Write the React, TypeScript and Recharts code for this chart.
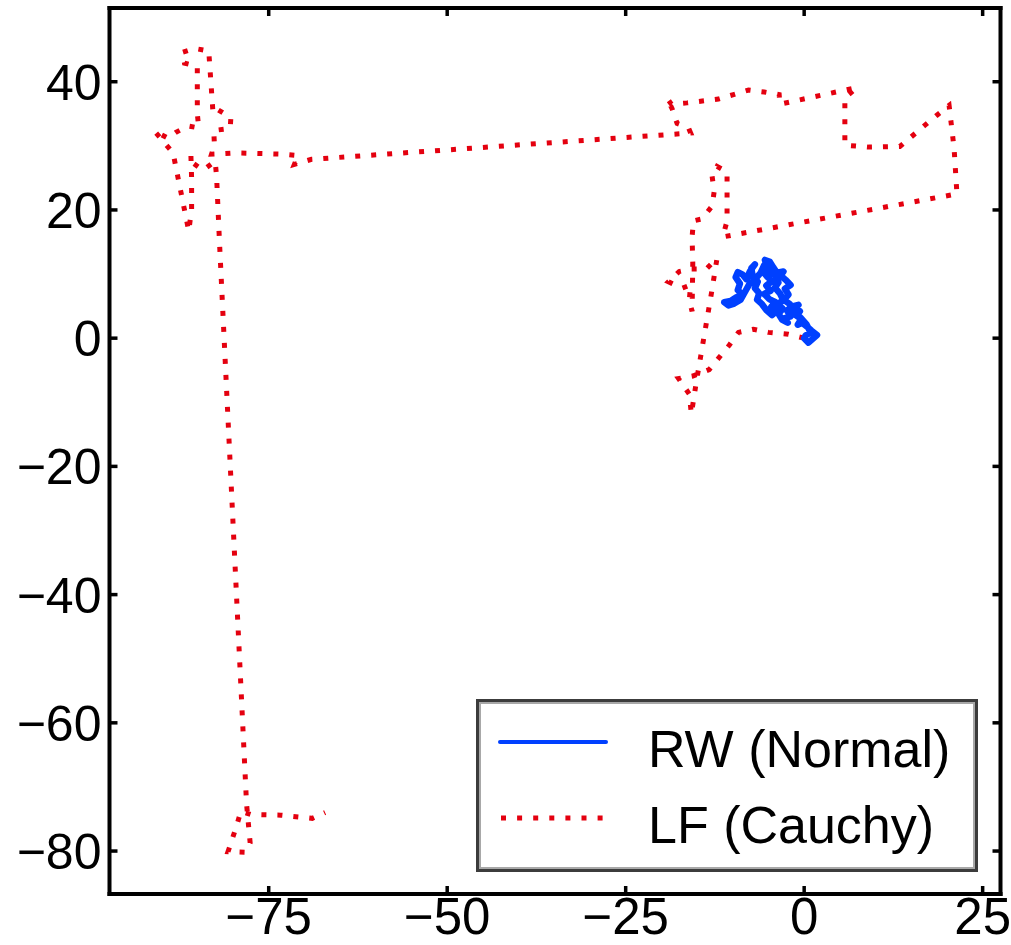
import React from 'react';
import { LineChart, Line, XAxis, YAxis, Legend } from 'recharts';

const xTicks = [-75, -50, -25, 0, 25];
const yTicks = [-80, -60, -40, -20, 0, 20, 40];
const xDomain: [number, number] = [-97.3, 27.5];
const yDomain: [number, number] = [-86.7, 51.5];

// random walk, normal steps
const rwPoints: [number, number][] = [
  [0, 0], [0.6, -0.7], [1.2, -0.1], [1.8, 0.5], [1.0, 1.2], [0.4, 1.8], [-0.3, 2.4],
  [-0.9, 2.1], [-0.4, 3.0], [-1.2, 3.6], [-0.6, 4.2], [-1.4, 4.6], [-0.8, 5.2],
  [-1.8, 4.9], [-2.4, 4.3], [-1.9, 3.4], [-2.8, 3.1], [-2.3, 2.4], [-3.1, 2.9],
  [-3.6, 3.8], [-3.0, 4.6], [-3.8, 5.3], [-2.9, 5.9], [-2.2, 6.8], [-2.7, 7.7],
  [-1.9, 8.3], [-2.6, 9.1], [-3.3, 9.8], [-2.9, 10.4], [-3.8, 10.2], [-4.3, 11.0],
  [-4.8, 11.9], [-5.5, 12.2], [-5.1, 11.3], [-5.9, 10.6], [-5.2, 9.6], [-4.5, 8.9],
  [-5.3, 8.2], [-4.7, 7.4], [-5.6, 6.9], [-4.9, 6.1], [-4.0, 5.6], [-4.6, 4.9],
  [-3.9, 4.2], [-4.5, 3.6], [-5.3, 4.4], [-5.9, 5.3], [-6.6, 6.0], [-6.3, 7.0],
  [-6.9, 7.8], [-6.5, 8.8], [-7.2, 9.6], [-7.4, 10.9], [-6.9, 11.5], [-7.6, 10.4],
  [-8.1, 9.2], [-8.6, 9.9], [-9.3, 10.3], [-9.6, 9.5], [-9.0, 8.5], [-9.3, 7.5],
  [-8.7, 6.8], [-9.6, 6.3], [-10.3, 5.8], [-11.2, 5.6], [-10.6, 5.1], [-9.8, 5.4],
  [-8.9, 6.0], [-8.2, 7.4], [-7.7, 8.4], [-6.8, 9.3], [-6.1, 10.2], [-5.6, 11.4],
  [-4.9, 10.6], [-4.0, 9.8], [-3.6, 8.7], [-4.1, 7.9], [-3.4, 7.0], [-3.0, 6.1],
  [-2.0, 5.3], [-1.3, 4.0], [-0.5, 3.2], [0.3, 2.2], [0.9, 0.9], [0.2, 0.4],
];

// levy flight, cauchy steps
const lfPoints: [number, number][] = [
  [0, 0], [-2.2, 0.6], [-5.0, 0.9], [-7.1, 1.4], [-9.2, 0.9], [-10.5, -1.1],
  [-11.9, -3.0], [-13.3, -4.9], [-15.6, -5.9], [-17.6, -6.3], [-16.1, -8.7],
  [-15.8, -11.8], [-15.1, -6.8], [-12.9, 7.6], [-12.2, 12.5], [-13.7, 10.8],
  [-15.8, 10.8], [-17.5, 10.4], [-19.0, 8.8], [-17.1, 7.8], [-15.9, 8.3],
  [-16.1, 5.8], [-15.7, 4.2], [-15.6, 11.7], [-15.7, 15.8], [-15.5, 18.3],
  [-14.3, 18.6], [-12.9, 20.6], [-12.6, 22.9], [-12.9, 25.3], [-12.2, 26.8],
  [-10.8, 25.9], [-10.8, 18.3], [-11.4, 15.8], [21.4, 22.5], [21.0, 29.6],
  [20.3, 36.3], [18.5, 34.7], [16.8, 33.1], [13.4, 29.9], [9.0, 29.8], [5.7, 30.1],
  [5.7, 37.5], [7.4, 39.1], [-3.4, 36.5], [-3.5, 38.0], [-5.6, 38.4], [-7.8, 38.7],
  [-9.9, 38.0], [-12.0, 37.3], [-16.4, 36.7], [-18.6, 36.5], [-19.2, 37.4],
  [-18.5, 35.8], [-17.8, 33.5], [-16.2, 32.8], [-15.9, 32.0], [-69.0, 27.9],
  [-71.4, 27.1], [-70.9, 28.5], [-73.0, 28.7], [-79.6, 28.9], [-83.0, 28.7],
  [-82.6, 30.1], [-82.7, 32.4], [-80.4, 32.7], [-80.3, 34.4], [-82.2, 35.7],
  [-82.8, 35.1], [-83.1, 40.0], [-83.4, 44.8], [-85.4, 45.2], [-87.1, 44.6],
  [-86.8, 42.9], [-85.0, 42.4], [-85.0, 35.0], [-84.8, 32.8], [-86.3, 33.1],
  [-88.0, 32.1], [-89.1, 31.2], [-91.0, 32.3], [-88.4, 28.9], [-86.2, 16.7],
  [-85.8, 20.1], [-85.8, 25.0], [-85.9, 28.6], [-85.6, 27.3], [-84.2, 26.2],
  [-82.5, 27.6], [-82.3, 25.2], [-81.9, 15.1], [-78.1, -72.7], [-77.6, -78.7],
  [-78.3, -80.2], [-80.7, -80.1], [-79.5, -76.1], [-78.9, -73.8], [-77.5, -74.3],
  [-73.3, -74.4], [-68.9, -74.9], [-67.1, -74.0],
];

const rwData = rwPoints.map(([x, y]) => ({ x, y }));
const lfData = lfPoints.map(([x, y]) => ({ x, y }));

const FONT = '"Liberation Sans", Arial, Helvetica, sans-serif';
const BLUE = '#0040ff';
const RED = '#e4000f';
const TICK_LEN = 8;
const axisStroke = { stroke: '#000', strokeWidth: 4, strokeLinecap: 'square' as const };

const fmt = (v: number) => (v < 0 ? `\u2212${Math.abs(v)}` : `${v}`);

function BottomTick({ x, y, payload }: any) {
  return (
    <g>
      <line x1={x} x2={x} y1={y} y2={y - TICK_LEN} stroke="#000" strokeWidth={3.5} />
      <text x={x} y={y + 40} textAnchor="middle" fontSize={51} fontFamily={FONT} fill="#000">
        {fmt(payload.value)}
      </text>
    </g>
  );
}

function LeftTick({ x, y, payload }: any) {
  return (
    <g>
      <line x1={x} x2={x + TICK_LEN} y1={y} y2={y} stroke="#000" strokeWidth={3.5} />
      <text x={x - 8} y={y + 18} textAnchor="end" fontSize={50} fontFamily={FONT} fill="#000">
        {fmt(payload.value)}
      </text>
    </g>
  );
}

const TopTick = ({ x, y }: any) => (
  <line x1={x} x2={x} y1={y} y2={y + TICK_LEN} stroke="#000" strokeWidth={3.5} />
);

const RightTick = ({ x, y }: any) => (
  <line x1={x} x2={x - TICK_LEN} y1={y} y2={y} stroke="#000" strokeWidth={3.5} />
);

function LegendBox() {
  const text: React.CSSProperties = {
    position: 'absolute',
    left: 169,
    fontFamily: FONT,
    fontSize: 52,
    lineHeight: '52px',
    color: '#000',
    whiteSpace: 'nowrap',
  };
  return (
    <div
      style={{
        position: 'relative',
        width: 502,
        height: 173,
        boxSizing: 'border-box',
        border: '3px solid #3c3c3c',
        boxShadow: 'inset 0 0 0 2px #a8a8a8',
        background: '#fff',
      }}
    >
      <svg width={140} height={170} style={{ position: 'absolute', left: 0, top: 0 }}>
        <line x1={21} x2={127} y1={40} y2={40} stroke={BLUE} strokeWidth={4} strokeLinecap="round" />
        <line x1={22} x2={128} y1={116} y2={116} stroke={RED} strokeWidth={5} strokeDasharray="5 11.1" />
      </svg>
      <span style={{ ...text, top: 21 }}>RW (Normal)</span>
      <span style={{ ...text, top: 97 }}>LF (Cauchy)</span>
    </div>
  );
}

export default function App() {
  return (
    <div style={{ position: 'absolute', left: 0, top: 0, background: '#fff' }}>
      <LineChart width={1011} height={945} margin={{ top: 0, right: 0, bottom: 0, left: 0 }}>
        <XAxis
          type="number"
          dataKey="x"
          domain={xDomain}
          ticks={xTicks}
          allowDataOverflow
          height={51}
          tickSize={0}
          tickMargin={0}
          axisLine={axisStroke}
          tickLine={false}
          tick={(p: any) => <BottomTick {...p} />}
        />
        <XAxis
          xAxisId="top"
          orientation="top"
          type="number"
          dataKey="x"
          domain={xDomain}
          ticks={xTicks}
          allowDataOverflow
          height={8}
          tickSize={0}
          tickMargin={0}
          axisLine={axisStroke}
          tickLine={false}
          tick={(p: any) => <TopTick {...p} />}
        />
        <YAxis
          type="number"
          dataKey="y"
          domain={yDomain}
          ticks={yTicks}
          allowDataOverflow
          width={109.5}
          tickSize={0}
          tickMargin={0}
          axisLine={axisStroke}
          tickLine={false}
          tick={(p: any) => <LeftTick {...p} />}
        />
        <YAxis
          yAxisId="right"
          orientation="right"
          type="number"
          dataKey="y"
          domain={yDomain}
          ticks={yTicks}
          allowDataOverflow
          width={10.5}
          tickSize={0}
          tickMargin={0}
          axisLine={axisStroke}
          tickLine={false}
          tick={(p: any) => <RightTick {...p} />}
        />
        <Legend
          layout="vertical"
          align="center"
          verticalAlign="middle"
          wrapperStyle={{ position: 'absolute', left: 476, top: 699, width: 502, height: 173, margin: 0 }}
          content={() => <LegendBox />}
        />
        <Line
          data={lfData}
          dataKey="y"
          type="linear"
          stroke={RED}
          strokeWidth={5}
          strokeDasharray="5 11"
          dot={false}
          activeDot={false}
          isAnimationActive={false}
        />
        <Line
          data={rwData}
          dataKey="y"
          type="linear"
          stroke={BLUE}
          strokeWidth={6.5}
          strokeLinejoin="round"
          strokeLinecap="round"
          dot={false}
          activeDot={false}
          isAnimationActive={false}
        />
      </LineChart>
    </div>
  );
}
